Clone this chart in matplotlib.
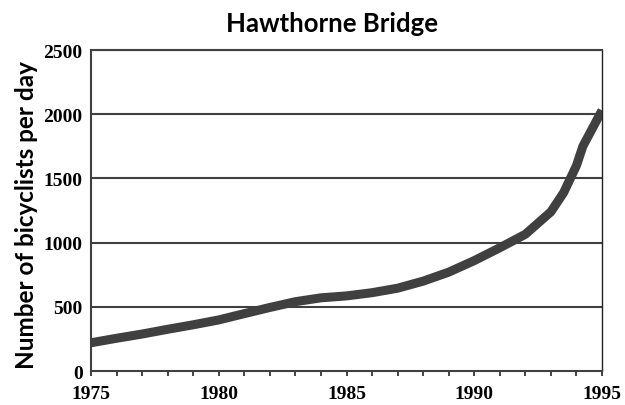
import matplotlib

matplotlib.use("Agg")
import matplotlib.pyplot as plt

years = [1975, 1976, 1977, 1978, 1979, 1980, 1981, 1982, 1983, 1984, 1985,
         1986, 1987, 1988, 1989, 1990, 1991, 1992, 1993, 1993.5, 1994, 1994.25, 1995]
riders = [220, 255, 288, 325, 360, 398, 447, 495, 540, 570, 585,
          610, 645, 700, 770, 860, 960, 1065, 1240, 1390, 1600, 1750, 2030]
y_ticks = [0, 500, 1000, 1500, 2000, 2500]
x_ticks = [1975, 1980, 1985, 1990, 1995]

fig = plt.figure(figsize=(6.25, 4.06), dpi=100)
ax = fig.add_axes([0.1456, 0.0837, 0.8176, 0.7906])

ax.plot(years, riders, color="#404040", lw=6.5, solid_joinstyle="round",
        solid_capstyle="butt", zorder=3)

for y in y_ticks[1:]:
    ax.axhline(y, color="#404040", lw=1.5, zorder=1)

ax.set_xlim(1975, 1995)
ax.set_ylim(0, 2500)
ax.set_xticks(x_ticks)
ax.set_xticks(range(1975, 1996), minor=True)
ax.set_yticks(y_ticks)
ax.tick_params(axis="x", which="both", direction="out", length=3.5, width=1.2,
               color="#222222", pad=6.5)
ax.tick_params(axis="y", length=0, pad=6)
for lab in ax.get_xticklabels() + ax.get_yticklabels():
    lab.set_fontfamily("Liberation Serif")
    lab.set_fontweight("bold")
    lab.set_fontsize(14)

for side in ["top", "left", "bottom"]:
    ax.spines[side].set_color("#404040")
    ax.spines[side].set_linewidth(1.5)
ax.spines["right"].set_color("#222222")
ax.spines["right"].set_linewidth(1.0)

fig.text(0.531, 0.921, "Hawthorne Bridge", fontsize=18.5, fontweight="bold",
         family="Lato", ha="center", va="baseline")
fig.text(0.043, 0.470, "Number of bicyclists per day", fontsize=17.5,
         fontweight="bold", family="Lato", rotation=90, ha="center", va="center")

fig.savefig("out.png", dpi=100)
